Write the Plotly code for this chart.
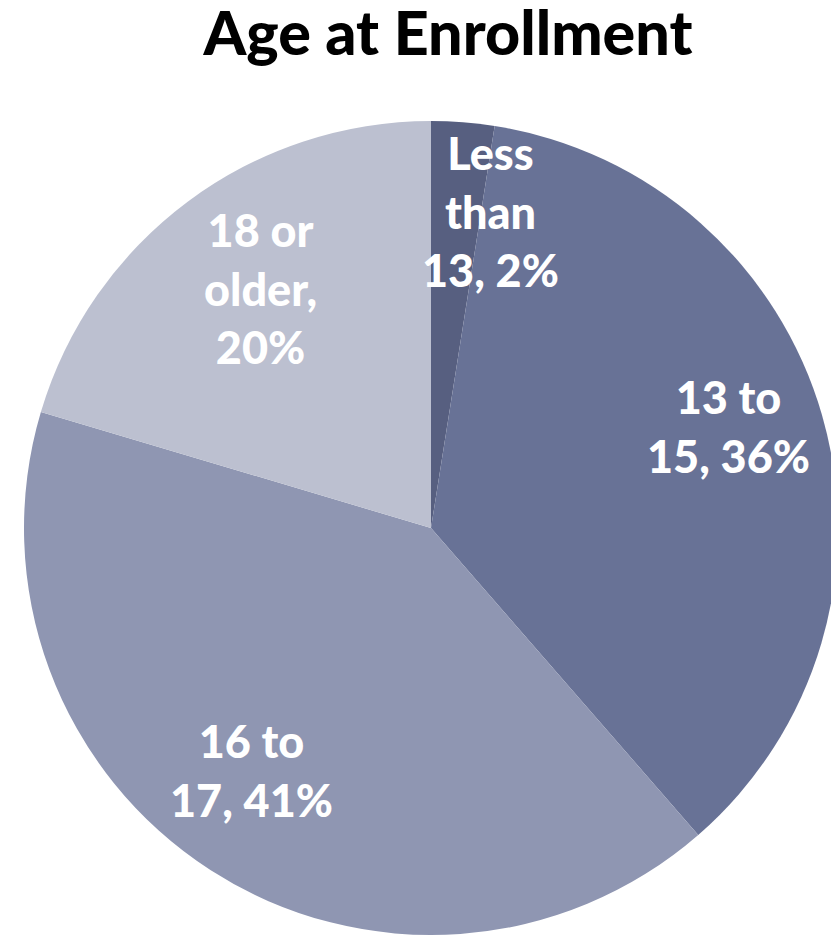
import math
import plotly.graph_objects as go

# Data
labels = ["Less than 13", "13 to 15", "16 to 17", "18 or older"]
values = [2.5, 36.1, 41.0, 20.4]
label_lines = [["Less", "than", "13,"], ["13 to", "15,"], ["16 to", "17,"], ["18 or", "older,"]]
colors = ["#575f80", "#687296", "#8f96b2", "#bcc0d0"]

# label placement style (fraction of radius, angle nudge in degrees)
label_rfrac = [0.79, 0.765, 0.74, 0.72]
label_dang = [6.0, -3.0, 3.5, 1.5]
label_join = [" ", " ", " ", "<br>"]

W, H = 839, 935
OFF = 8  # page body margin
ml, mr, mt, mb = 20 - OFF, W - 20 - 814 + OFF - 8, 121 - OFF, H - 121 - 814 + OFF

fig = go.Figure(go.Pie(
    labels=labels,
    values=values,
    sort=False,
    direction="clockwise",
    rotation=0,
    marker=dict(colors=colors, line=dict(width=0)),
    textinfo="none",
    hoverinfo="label+percent",
    showlegend=False,
))

total = sum(values)
cum = 0.0
annotations = []
for i, v in enumerate(values):
    mid = (cum + v / 2) / total * 360 + label_dang[i]
    cum += v
    th = math.radians(mid)
    r = 0.5 * label_rfrac[i]
    x = 0.5 + r * math.sin(th)
    y = 0.5 + r * math.cos(th)
    lines = label_lines[i]
    txt = "<br>".join(lines[:-1]) + "<br>" + lines[-1] + label_join[i] + f"{int(v)}%"
    annotations.append(dict(
        x=x, y=y, xref="paper", yref="paper", text=txt, showarrow=False,
        xanchor="center", yanchor="middle", align="center",
        font=dict(family="Lato", size=45, color="white", weight=900),
    ))

fig.update_layout(
    width=W, height=H,
    margin=dict(l=ml, r=mr, t=mt, b=mb),
    paper_bgcolor="white", plot_bgcolor="white",
    title=dict(
        text="Age at Enrollment", x=(448 - OFF) / W, xref="container", xanchor="center",
        y=1 - (34 - OFF) / H, yref="container", yanchor="middle",
        font=dict(family="Lato", size=61, color="black", weight=900),
    ),
    annotations=annotations,
)

fig.write_html("out.html")
